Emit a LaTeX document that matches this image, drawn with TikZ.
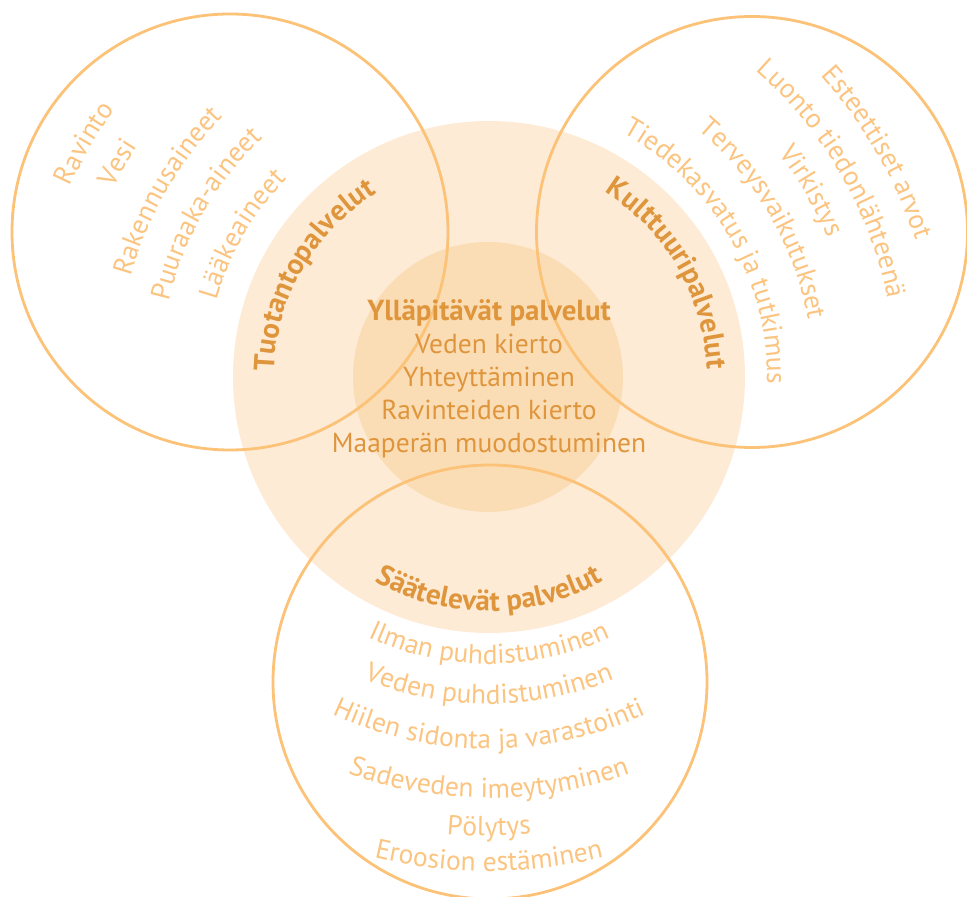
\documentclass[tikz,border=0pt]{standalone}
\usepackage{fontspec}
\setmainfont{PT Sans}
\usetikzlibrary{decorations.text}
\definecolor{ringline}{RGB}{251,194,120}
\definecolor{outerfill}{RGB}{253,235,214}
\definecolor{innerfill}{RGB}{251,221,181}
\definecolor{darktext}{RGB}{223,149,60}
\definecolor{lighttext}{RGB}{251,196,128}
\newcommand{\itemfont}{\fontsize{27.5}{32}\selectfont}
\newcommand{\headfont}{\bfseries\fontsize{29}{33}\selectfont}
\begin{document}
\begin{tikzpicture}[x=1pt,y=1pt]
        \tikzstyle{disc}=[circle,inner sep=0pt]
        \tikzstyle{ring}=[circle,draw=ringline,line width=2.8pt,inner sep=0pt]
        \tikzstyle{archead}=[decorate,decoration={text along path,text align=center,text color=darktext}]
        \tikzstyle{arcitem}=[decorate,decoration={text along path,text align=center,text color=lighttext}]
        \useasboundingbox (0,0) rectangle (967,897);
       \begin{scope}
         \node [disc,fill=outerfill,minimum size=512pt] (outer) at (489,520) {};
         \node [disc,fill=innerfill,minimum size=270pt] (inner) at (488,520) {};
         \coordinate (c) at (489,520);

         \node [ring,minimum size=436pt] (prod) at (230,665) {};
         \node [ring,minimum size=431pt] (cult) at (752,665) {};
         \node [ring,minimum size=434pt] (reg) at (490,215) {};

         \node [align=center,inner sep=0pt,text=darktext,font=\fontsize{27.5}{33}\selectfont] (core) at (489,518)
           {{\headfont Ylläpitävät palvelut}\\Veden kierto\\Yhteyttäminen\\Ravinteiden kierto\\Maaperän muodostuminen};

         % tuotantopalvelut
         \path[archead,decoration={text={|\headfont|Tuotantopalvelut}}] (c) ++(235:215pt) arc[start angle=235,end angle=65,radius=215pt];
         \path[arcitem,decoration={text={|\itemfont|Lääkeaineet}}] (c) ++(235:283pt) arc[start angle=235,end angle=65,radius=283pt];
         \path[arcitem,decoration={text={|\itemfont|Puuraaka-aineet}}] (c) ++(235:329pt) arc[start angle=235,end angle=65,radius=329pt];
         \path[arcitem,decoration={text={|\itemfont|Rakennusaineet}}] (c) ++(235:372pt) arc[start angle=235,end angle=65,radius=372pt];
         \path[arcitem,decoration={text={|\itemfont|Vesi}}] (c) ++(235:420pt) arc[start angle=235,end angle=65,radius=420pt];
         \path[arcitem,decoration={text={|\itemfont|Ravinto}}] (c) ++(235:460pt) arc[start angle=235,end angle=65,radius=460pt];

         % kulttuuripalvelut
         \path[archead,decoration={text={|\headfont|Kulttuuripalvelut}}] (c) ++(115:218pt) arc[start angle=115,end angle=-55,radius=218pt];
         \path[arcitem,decoration={text={|\itemfont|Tiedekasvatus ja tutkimus}}] (c) ++(115:278pt) arc[start angle=115,end angle=-55,radius=278pt];
         \path[arcitem,decoration={text={|\itemfont|Terveysvaikutukset}}] (c) ++(115:324pt) arc[start angle=115,end angle=-55,radius=324pt];
         \path[arcitem,decoration={text={|\itemfont|Virkistys}}] (c) ++(115:366pt) arc[start angle=115,end angle=-55,radius=366pt];
         \path[arcitem,decoration={text={|\itemfont|Luonto tiedonlähteenä}}] (c) ++(115:406pt) arc[start angle=115,end angle=-55,radius=406pt];
         \path[arcitem,decoration={text={|\itemfont|Esteettiset arvot}}] (c) ++(115:448pt) arc[start angle=115,end angle=-55,radius=448pt];

         % säätelevät palvelut
         \path[archead,decoration={text={|\headfont|Säätelevät palvelut}}] (c) ++(185:234pt) arc[start angle=185,end angle=355,radius=234pt];
         \path[arcitem,decoration={text={|\itemfont|Ilman puhdistuminen}}] (c) ++(185:287pt) arc[start angle=185,end angle=355,radius=287pt];
         \path[arcitem,decoration={text={|\itemfont|Veden puhdistuminen}}] (c) ++(185:327pt) arc[start angle=185,end angle=355,radius=327pt];
         \path[arcitem,decoration={text={|\itemfont|Hiilen sidonta ja varastointi}}] (c) ++(185:372pt) arc[start angle=185,end angle=355,radius=372pt];
         \path[arcitem,decoration={text={|\itemfont|Sadeveden imeytyminen}}] (c) ++(185:421pt) arc[start angle=185,end angle=355,radius=421pt];
         \path[arcitem,decoration={text={|\itemfont|Pölytys}}] (c) ++(185:459pt) arc[start angle=185,end angle=355,radius=459pt];
         \path[arcitem,decoration={text={|\itemfont|Eroosion estäminen}}] (c) ++(185:494pt) arc[start angle=185,end angle=355,radius=494pt];
        \end{scope}
      \end{tikzpicture}
\end{document}
